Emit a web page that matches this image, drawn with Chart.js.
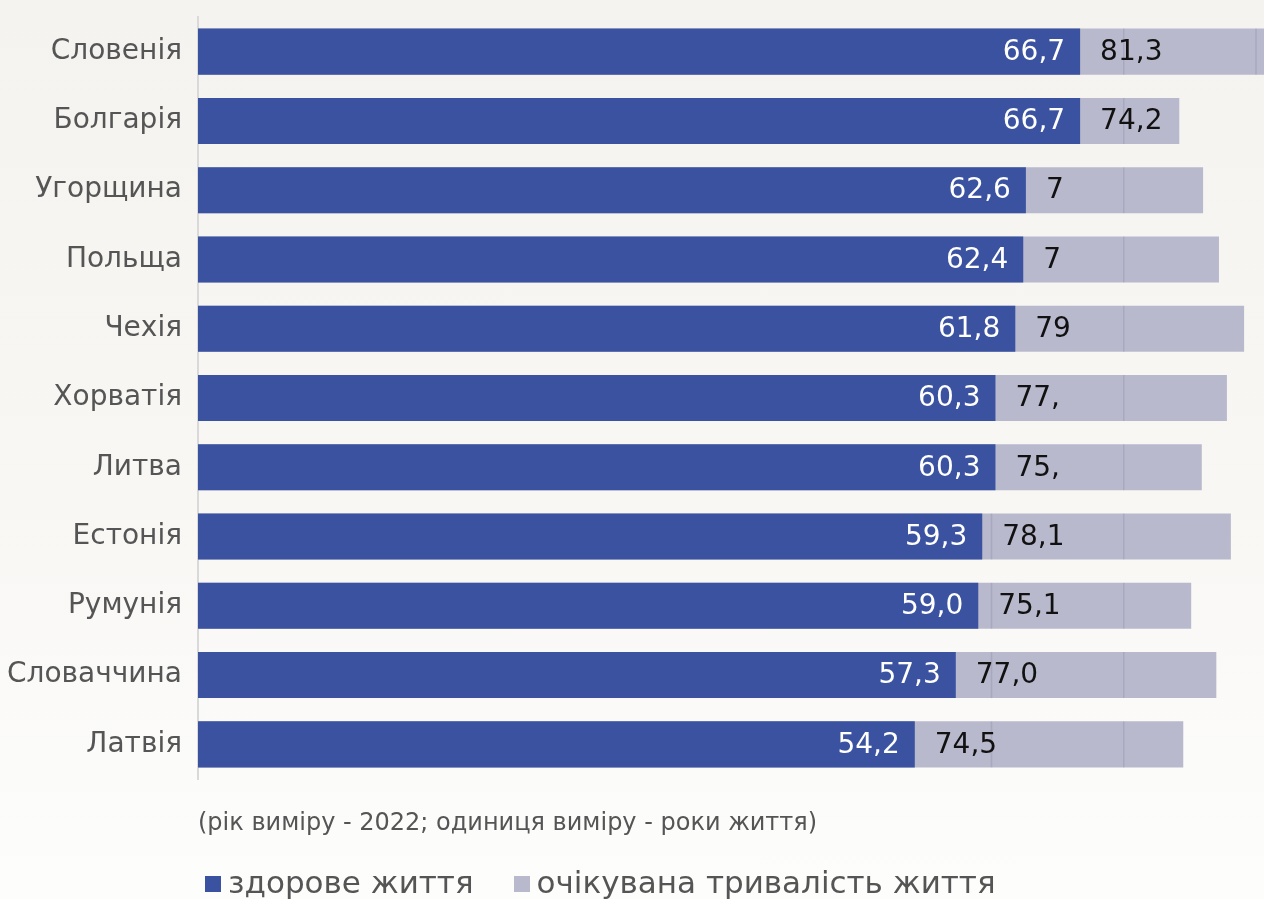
<!DOCTYPE html>
<html lang="uk">
<head>
<meta charset="utf-8">
<script src="https://cdn.jsdelivr.net/npm/chart.js@4"></script>
<style>
  html, body { margin: 0; padding: 0; }
  body { width: 1264px; height: 899px; overflow: hidden;
         background: linear-gradient(to bottom, #f4f3ef 0%, #f8f7f4 55%, #fdfdfc 100%);
         font-family: 'DejaVu Sans', sans-serif; }
  #wrap { position: relative; width: 1264px; height: 899px; }
  #note { position: absolute; left: 198px; top: 808px; font-size: 24px; color: #555; white-space: nowrap; }
  #legend { position: absolute; left: 205px; top: 864px; font-size: 31px; color: #555; white-space: nowrap; display: flex; align-items: center; }
  .item { display: flex; align-items: center; }
  .item:first-child { margin-right: 40px; }
  .sw { width: 16px; height: 16px; margin-right: 7px; margin-top: 4px; }
</style>
</head>
<body>
<div id="wrap">
  <canvas id="c" width="1264" height="899"></canvas>
  <div id="note"></div>
  <div id="legend"></div>
</div>
<script>
const categories = ['Словенія','Болгарія','Угорщина','Польща','Чехія','Хорватія','Литва','Естонія','Румунія','Словаччина','Латвія'];
const healthyLife = [66.7, 66.7, 62.6, 62.4, 61.8, 60.3, 60.3, 59.3, 59.0, 57.3, 54.2];
const lifeExpectancy = [81.3, 74.2, 76.0, 77.2, 79.1, 77.8, 75.9, 78.1, 75.1, 77.0, 74.5];
const lifeExpectancyLabels = ['81,3', '74,2', '7', '7', '79', '77,', '75,', '78,1', '75,1', '77,0', '74,5'];
const seriesNames = ['здорове життя', 'очікувана тривалість життя'];
const noteText = '(рік виміру - 2022; одиниця виміру - роки життя)';
const gridValues = [60, 70, 80];

const BLUE = '#3a52a0';
const GREY = '#b8b9cc';

const fmt = v => v.toFixed(1).replace('.', ',');

const labelPlugin = {
  id: 'barLabels',
  afterDatasetsDraw(chart) {
    const ctx = chart.ctx;
    const xs = chart.scales.x;
    const blueMeta = chart.getDatasetMeta(0);
    const greyMeta = chart.getDatasetMeta(1);
    ctx.save();
    greyMeta.data.forEach((g, i) => {
      const b = blueMeta.data[i];
      const top = g.y - g.height / 2, bot = g.y + g.height / 2;
      ctx.strokeStyle = 'rgba(90,90,125,0.16)';
      ctx.lineWidth = 1.5;
      gridValues.forEach(v => {
        const px = xs.getPixelForValue(v);
        if (px > b.x + 1 && px < g.x - 1) {
          ctx.beginPath();
          ctx.moveTo(px, top);
          ctx.lineTo(px, bot);
          ctx.stroke();
        }
      });
    });
    ctx.font = '28px "DejaVu Sans", sans-serif';
    ctx.textBaseline = 'middle';
    blueMeta.data.forEach((b, i) => {
      ctx.fillStyle = '#ffffff';
      ctx.textAlign = 'right';
      ctx.fillText(fmt(healthyLife[i]), b.x - 15, b.y + 1);
      ctx.fillStyle = '#111111';
      ctx.textAlign = 'left';
      ctx.fillText(lifeExpectancyLabels[i], b.x + 20, b.y + 1);
    });
    ctx.restore();
  }
};

const chart = new Chart(document.getElementById('c'), {
  type: 'bar',
  data: {
    labels: categories,
    datasets: [
      { label: seriesNames[0], data: healthyLife, backgroundColor: BLUE, borderWidth: 0,
        barPercentage: 0.665, categoryPercentage: 1.0, grouped: false },
      { label: seriesNames[1], data: lifeExpectancy, backgroundColor: GREY, borderWidth: 0,
        barPercentage: 0.665, categoryPercentage: 1.0, grouped: false, clip: false }
    ]
  },
  options: {
    indexAxis: 'y',
    responsive: false,
    animation: false,
    layout: { padding: { left: 0, right: 8, top: 17, bottom: 120 } },
    plugins: { legend: { display: false }, tooltip: { enabled: false } },
    scales: {
      x: { display: false, min: 0, max: 80 },
      y: {
        afterFit(scale) { scale.width = 198; scale.paddingTop = 0; scale.paddingBottom = 0; },
        grid: { display: false, drawTicks: false },
        border: { display: true, color: '#d9d9d9', width: 2 },
        ticks: { color: '#555', padding: 16, font: { family: 'DejaVu Sans', size: 28 } }
      }
    }
  },
  plugins: [labelPlugin]
});

document.getElementById('note').textContent = noteText;
const leg = document.getElementById('legend');
chart.data.datasets.forEach(ds => {
  const it = document.createElement('div');
  it.className = 'item';
  const sw = document.createElement('span');
  sw.className = 'sw';
  sw.style.background = ds.backgroundColor;
  const t = document.createElement('span');
  t.textContent = ds.label;
  it.appendChild(sw); it.appendChild(t);
  leg.appendChild(it);
});
</script>
</body>
</html>
